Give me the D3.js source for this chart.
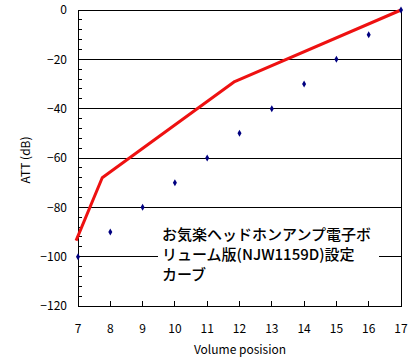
<!DOCTYPE html>
<html>
<head>
<meta charset="utf-8">
<script src="https://cdn.jsdelivr.net/npm/d3@7"></script>
<style>
  body { margin: 0; background: #fff; }
  text { font-family: "Noto Sans CJK JP", "Liberation Sans", sans-serif; }
</style>
</head>
<body>
<script>
var volume = [7, 8, 9, 10, 11, 12, 13, 14, 15, 16, 17];
var att = [-100, -90, -80, -70, -60, -50, -40, -30, -20, -10, 0];
// setting curve (red)
var curveVol = [6.94, 7.75, 11.85, 17];
var curveAtt = [-93.5, -68, -29, 0];
var yTicks = [0, -20, -40, -60, -80, -100, -120];
var note = ["お気楽ヘッドホンアンプ電子ボ", "リューム版(NJW1159D)設定", "カーブ"];

var width = 415, height = 362;
var x0 = 78, x1 = 401, y0 = 10, y1 = 306;

var svg = d3.select("body").append("svg")
  .attr("width", width)
  .attr("height", height);

var x = d3.scaleLinear().domain([7, 17]).range([x0, x1]);
var y = d3.scaleLinear().domain([0, -120]).range([y0, y1]);

// gridlines
svg.append("g")
  .selectAll("line")
  .data(yTicks.filter(d => d < 0 && d > -120))
  .enter().append("line")
  .attr("x1", x0).attr("x2", x1)
  .attr("y1", d => y(d)).attr("y2", d => y(d))
  .attr("stroke", "#000").attr("stroke-width", 1)
  .attr("shape-rendering", "crispEdges");

// minor ticks on y axis (inside)
svg.append("g")
  .selectAll("line")
  .data(d3.range(0, -121, -4))
  .enter().append("line")
  .attr("x1", x0).attr("x2", x0 + 4)
  .attr("y1", d => y(d)).attr("y2", d => y(d))
  .attr("stroke", "#000")
  .attr("shape-rendering", "crispEdges");

// x ticks (inside)
svg.append("g")
  .selectAll("line")
  .data(volume)
  .enter().append("line")
  .attr("x1", d => x(d)).attr("x2", d => x(d))
  .attr("y1", y1).attr("y2", y1 - 5)
  .attr("stroke", "#000")
  .attr("shape-rendering", "crispEdges");

// frame
svg.append("rect")
  .attr("x", x0).attr("y", y0)
  .attr("width", x1 - x0).attr("height", y1 - y0)
  .attr("fill", "none").attr("stroke", "#000")
  .attr("shape-rendering", "crispEdges");

// tick labels
svg.append("g")
  .selectAll("text")
  .data(yTicks)
  .enter().append("text")
  .attr("x", 67).attr("y", d => y(d))
  .attr("dy", "0.35em")
  .attr("text-anchor", "end")
  .attr("font-size", 12)
  .text(d => d === 0 ? "0" : "\u2212" + Math.abs(d));

svg.append("g")
  .selectAll("text")
  .data(volume)
  .enter().append("text")
  .attr("x", d => x(d)).attr("y", 329)
  .attr("dy", "0.35em")
  .attr("text-anchor", "middle")
  .attr("font-size", 12)
  .text(d => d);

svg.append("text")
  .attr("transform", "translate(26,160) rotate(-90)")
  .attr("text-anchor", "middle")
  .attr("dy", "0.35em")
  .attr("font-size", 12)
  .text("ATT (dB)");

svg.append("text")
  .attr("x", 240).attr("y", 350)
  .attr("text-anchor", "middle")
  .attr("dy", "0.35em")
  .attr("font-size", 12)
  .text("Volume posision");

// red curve
var line = d3.line().x(d => x(d[0])).y(d => y(d[1]));
svg.append("path")
  .datum(d3.zip(curveVol, curveAtt))
  .attr("d", line)
  .attr("fill", "none")
  .attr("stroke", "#ee1111")
  .attr("stroke-width", 3)
  .attr("stroke-linejoin", "round");

// points
svg.append("g")
  .selectAll("path")
  .data(d3.zip(volume, att))
  .enter().append("path")
  .attr("transform", d => `translate(${x(d[0])},${y(d[1])})`)
  .attr("d", d3.symbol(d3.symbolDiamond, 14))
  .attr("fill", "#000080");

// note box
svg.append("rect")
  .attr("x", 158).attr("y", 222)
  .attr("width", 221).attr("height", 64)
  .attr("fill", "#fff");

svg.append("g")
  .selectAll("text")
  .data(note)
  .enter().append("text")
  .attr("x", 162).attr("y", (d, i) => 235 + i * 20)
  .attr("dy", "0.35em")
  .attr("font-size", 15)
  .attr("font-weight", 500)
  .text(d => d);
</script>
</body>
</html>
